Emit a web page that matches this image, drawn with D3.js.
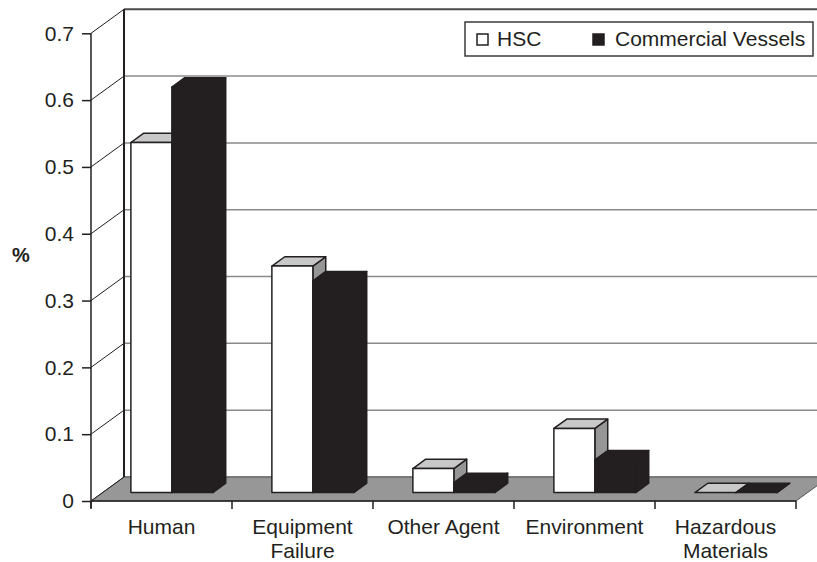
<!DOCTYPE html>
<html>
<head>
<meta charset="utf-8">
<script src="https://cdn.jsdelivr.net/npm/d3@7/dist/d3.min.js"></script>
<style>
  html, body { margin: 0; padding: 0; background: #fff; }
  svg { display: block; font-family: "Liberation Sans", Arial, sans-serif; }
</style>
</head>
<body>
<svg id="chart" width="817" height="562"></svg>
<script>
// Causes of accidents, share of total (%)
const categories = ["Human", "Equipment Failure", "Other Agent", "Environment", "Hazardous Materials"];
const categoryLines = [["Human"], ["Equipment", "Failure"], ["Other Agent"], ["Environment"], ["Hazardous", "Materials"]];
const seriesNames = ["HSC", "Commercial Vessels"];
const hscValues = [0.524, 0.339, 0.036, 0.096, 0];
const commercialValues = [0.607, 0.317, 0.015, 0.049, 0];
const yTicks = [0, 0.1, 0.2, 0.3, 0.4, 0.5, 0.6, 0.7];

const ink = "#231f20";
const fontSize = "21px";
const svg = d3.select("#chart");

// Front plane of the 3-D box and its depth vector
const x = d3.scaleBand(categories, [91, 796]);
const sx = d3.scaleBand(seriesNames, [0, x.bandwidth()])
  .paddingInner(0).paddingOuter(0.72).align(0.48);
const y = d3.scaleLinear([0, 0.7], [501, 33.3]);
const depth = { dx: 33, dy: -24 };
const barFront = 0.35, barBack = 0.74;

const P = (px, v, f) => [px + depth.dx * f, y(v) + depth.dy * f];
const line = pts => "M" + pts.map(p => p.join(",")).join("L") + "Z";

// Back wall gridlines
const wall = svg.append("g");
wall.selectAll("line.grid").data(yTicks).join("line")
  .attr("class", "grid")
  .attr("x1", d => P(91, d, 1)[0]).attr("x2", 840)
  .attr("y1", d => P(91, d, 1)[1]).attr("y2", d => P(91, d, 1)[1])
  .attr("stroke", d => d === 0.7 ? "#4a4a4a" : "#8a8a8a")
  .attr("stroke-width", d => d === 0.7 ? 2 : 1.5);

// Floor
svg.append("path")
  .attr("d", line([P(91, 0, 0), P(796, 0, 0), P(796, 0, 1), P(91, 0, 1)]))
  .attr("fill", "#979797")
  .attr("stroke", "#555").attr("stroke-width", 1);

// Left wall edge and diagonal tick connectors
svg.append("line")
  .attr("x1", P(91, 0, 1)[0]).attr("x2", P(91, 0.7, 1)[0])
  .attr("y1", P(91, 0, 1)[1]).attr("y2", P(91, 0.7, 1)[1])
  .attr("stroke", ink).attr("stroke-width", 2);
svg.append("g").selectAll("line").data(yTicks).join("line")
  .attr("x1", 91).attr("y1", d => y(d))
  .attr("x2", d => P(91, d, 1)[0]).attr("y2", d => P(91, d, 1)[1])
  .attr("stroke", ink).attr("stroke-width", 1);

// Bars
const series = [
  { name: seriesNames[0], values: hscValues, front: "#ffffff", top: "#c8c8c8", side: "#969696" },
  { name: seriesNames[1], values: commercialValues, front: ink, top: ink, side: ink }
];
const bars = svg.append("g");
categories.forEach((c, i) => {
  series.forEach(s => {
    const v = s.values[i];
    const x0 = x(c) + sx(s.name), x1 = x0 + sx.bandwidth();
    const g = bars.append("g")
      .attr("stroke", ink).attr("stroke-width", 1.5).attr("stroke-linejoin", "round");
    g.append("path").attr("fill", s.side)
      .attr("d", line([P(x1, 0, barFront), P(x1, 0, barBack), P(x1, v, barBack), P(x1, v, barFront)]));
    g.append("path").attr("fill", s.top)
      .attr("d", line([P(x0, v, barFront), P(x1, v, barFront), P(x1, v, barBack), P(x0, v, barBack)]));
    if (v > 0) {
      g.append("path").attr("fill", s.front)
        .attr("d", line([P(x0, 0, barFront), P(x1, 0, barFront), P(x1, v, barFront), P(x0, v, barFront)]));
    }
  });
});

// Front value axis
const yAxis = svg.append("g")
  .attr("transform", "translate(91,0)")
  .call(d3.axisLeft(y).tickValues(yTicks).tickSize(9).tickPadding(8)
    .tickFormat(d => d === 0 ? "0" : d.toFixed(1)));
yAxis.select(".domain").remove();
yAxis.selectAll(".tick line").attr("stroke", ink).attr("stroke-width", 1.5);
yAxis.selectAll(".tick text").attr("fill", ink).style("font-size", fontSize)
  .style("font-family", "'Liberation Sans', Arial, sans-serif");
svg.append("line").attr("x1", 91).attr("x2", 91).attr("y1", y(0.7)).attr("y2", 508)
  .attr("stroke", ink).attr("stroke-width", 1.5);

// Front category axis
svg.append("line").attr("x1", 91).attr("x2", 796).attr("y1", y(0)).attr("y2", y(0))
  .attr("stroke", ink).attr("stroke-width", 1.5);
const bounds = categories.map(c => x(c)).concat([x(categories[categories.length - 1]) + x.bandwidth()]);
svg.append("g").selectAll("line").data(bounds).join("line")
  .attr("x1", d => d).attr("x2", d => d).attr("y1", y(0)).attr("y2", y(0) + 8)
  .attr("stroke", ink).attr("stroke-width", 1.5);
const catLabels = svg.append("g").attr("fill", ink).style("font-size", fontSize).attr("text-anchor", "middle");
categories.forEach((c, i) => {
  const t = catLabels.append("text").attr("x", x(c) + x.bandwidth() / 2).attr("y", 534);
  categoryLines[i].forEach((ln, k) => {
    t.append("tspan").attr("x", x(c) + x.bandwidth() / 2).attr("dy", k === 0 ? 0 : 24).text(ln);
  });
});

// Axis title
svg.append("text").attr("x", 21).attr("y", 262).attr("text-anchor", "middle")
  .attr("fill", ink).style("font-size", "20px").style("font-weight", "bold").text("%");

// Legend
const legend = svg.append("g");
legend.append("rect").attr("x", 465).attr("y", 22).attr("width", 348).attr("height", 34)
  .attr("fill", "#fff").attr("stroke", "#3a3a3a").attr("stroke-width", 1.5);
const legendItems = [
  { name: seriesNames[0], fill: "#fff", sx: 477, tx: 497 },
  { name: seriesNames[1], fill: ink, sx: 593, tx: 615 }
];
legendItems.forEach(it => {
  legend.append("rect").attr("x", it.sx).attr("y", 34).attr("width", 11).attr("height", 11)
    .attr("fill", it.fill).attr("stroke", ink).attr("stroke-width", 1.5);
  legend.append("text").attr("x", it.tx).attr("y", 46).attr("fill", ink)
    .style("font-size", fontSize).text(it.name);
});
</script>
</body>
</html>
